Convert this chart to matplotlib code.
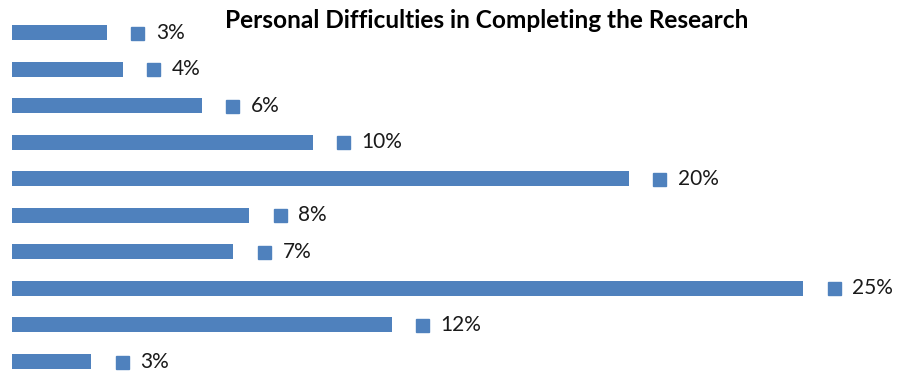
import matplotlib
matplotlib.use("Agg")
import matplotlib.pyplot as plt
from matplotlib.transforms import offset_copy

title = "Personal Difficulties in Completing the Research"
values = [3.0, 3.5, 6.0, 9.5, 19.5, 7.5, 7.0, 25.0, 12.0, 2.5]
labels = ["3%", "4%", "6%", "10%", "20%", "8%", "7%", "25%", "12%", "3%"]

color = "#4F81BD"
W, H, DPI = 899, 372, 100
fig = plt.figure(figsize=(W / DPI, H / DPI), dpi=DPI)
ax = fig.add_axes([12 / W, 0, (W - 12) / W, 1])
pos = list(range(len(values)))
ax.barh(pos, values, height=15 / 36.56, color=color, align="center")
ax.set_xlim(0, (W - 12) / 31.64)
ax.set_ylim(9.286, -0.889)
ax.axis("off")

mk_tr = offset_copy(ax.transData, fig=fig, x=30.5, y=0, units="dots")
tx_tr = offset_copy(ax.transData, fig=fig, x=49, y=0, units="dots")
ax.plot(values, pos, linestyle="none", marker="s", markersize=13 * 72 / DPI,
        color=color, transform=mk_tr)
for v, p, lab in zip(values, pos, labels):
    ax.text(v, p, lab, transform=tx_tr, ha="left", va="center",
            fontsize=15, family="Lato", color="#1a1a1a")

fig.text(487 / W, 1 - 21 / H, title, ha="center", va="center",
         fontsize=17.6, fontweight="bold", family="Lato", color="black")
fig.savefig("out.png", dpi=DPI)
